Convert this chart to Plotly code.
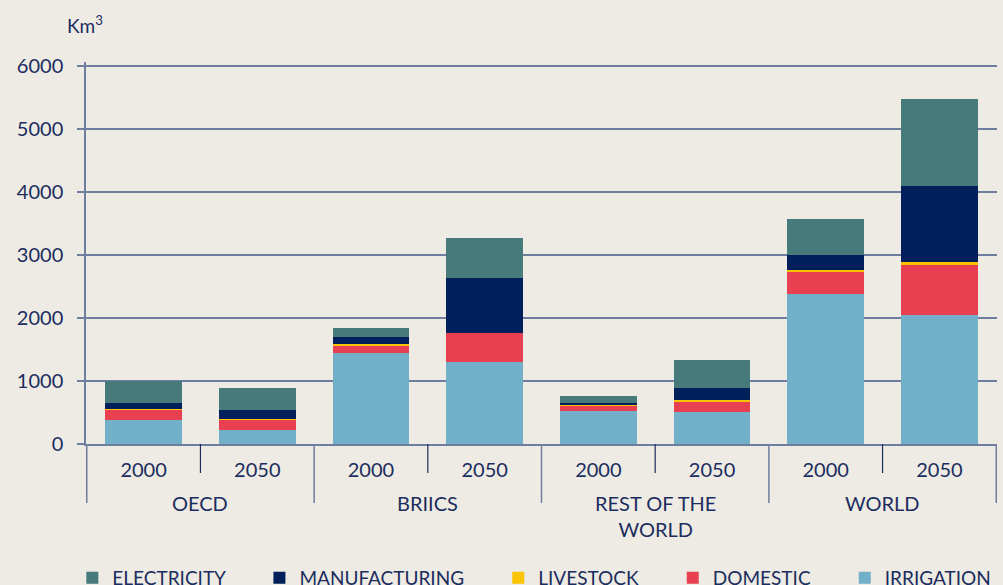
import plotly.graph_objects as go

groups = ["OECD", "OECD", "BRIICS", "BRIICS", "REST OF THE<br>WORLD", "REST OF THE<br>WORLD", "WORLD", "WORLD"]
years = ["2000", "2050", "2000", "2050", "2000", "2050", "2000", "2050"]

irrigation = [380, 220, 1440, 1300, 520, 505, 2380, 2045]
domestic = [160, 165, 130, 460, 85, 175, 350, 795]
livestock = [15, 15, 20, 0, 15, 25, 30, 50]
manufacturing = [95, 140, 105, 870, 25, 180, 240, 1205]
electricity = [350, 350, 145, 635, 110, 445, 570, 1380]

series_names = ["ELECTRICITY", "MANUFACTURING", "LIVESTOCK", "DOMESTIC", "IRRIGATION"]
series_values = [electricity, manufacturing, livestock, domestic, irrigation]
series_colors = ["#467a7b", "#001f5b", "#fbc400", "#e83f51", "#72afc9"]

text_color = "#1b2d5e"
grid_color = "#6f7e9e"
bg = "#eeebe4"
font_family = "Lato"
pad = "\u00a0" * 6

# unique category keys (group + year), labelled with the year only
cats = [g.replace("<br>", " ") + " | " + y for g, y in zip(groups, years)]

fig = go.Figure()
for rank in range(len(series_names) - 1, -1, -1):
    name = series_names[rank]
    fig.add_trace(go.Bar(
        x=cats, y=series_values[rank],
        name=name + (pad if rank < len(series_names) - 1 else ""),
        marker=dict(color=series_colors[rank], line=dict(width=0)),
        legendrank=rank + 1,
    ))

plot_h = 585 - 62 - 141
short_len = 29 / plot_h
long_len = 59 / plot_h

shapes = []
annotations = []
n = len(cats)
for b in range(n + 1):
    is_group_edge = b == 0 or b == n or groups[b] != groups[b - 1]
    shapes.append(dict(
        type="line", xref="x", yref="paper",
        x0=b - 0.5, x1=b - 0.5, y0=0, y1=-(long_len if is_group_edge else short_len),
        line=dict(color=grid_color if is_group_edge else text_color,
                  width=1.5 if is_group_edge else 1.2),
    ))

# group labels centred under each group
start = 0
for i in range(1, n + 1):
    if i == n or groups[i] != groups[start]:
        annotations.append(dict(
            text=groups[start], xref="x", yref="paper",
            x=(start + i - 1) / 2, y=-45 / plot_h,
            xanchor="center", yanchor="top", showarrow=False,
            font=dict(size=20, color=text_color, family=font_family),
        ))
        start = i

annotations.append(dict(
    text="Km<sup>3</sup>", xref="paper", yref="paper", x=-0.023, y=1.097,
    xanchor="left", yanchor="middle", showarrow=False,
    font=dict(size=19, color=text_color, family=font_family),
))

fig.update_layout(
    barmode="stack",
    bargap=0.325,
    width=1003, height=585,
    paper_bgcolor=bg, plot_bgcolor=bg,
    margin=dict(l=86, r=6, t=62, b=141, autoexpand=False),
    font=dict(family=font_family, color=text_color, size=20),
    showlegend=True,
    legend=dict(
        orientation="h", x=-0.015, xanchor="left",
        y=-(578 - 444) / plot_h, yanchor="middle",
        font=dict(size=19, color=text_color), traceorder="normal",
        itemwidth=30, bgcolor="rgba(0,0,0,0)",
    ),
    shapes=shapes,
    annotations=annotations,
)

fig.update_yaxes(
    range=[0, 6060], tickvals=[0, 1000, 2000, 3000, 4000, 5000, 6000],
    showgrid=True, gridcolor=grid_color, gridwidth=1.5,
    showline=True, linecolor=grid_color, linewidth=1.5,
    ticks="outside", ticklen=7, tickcolor=grid_color, tickwidth=1.5,
    ticklabelstandoff=10,
    zeroline=False, tickfont=dict(size=20, color=text_color),
    automargin=False,
)
fig.update_xaxes(
    type="category", categoryorder="array", categoryarray=cats,
    tickvals=cats, ticktext=years,
    showline=True, linecolor=grid_color, linewidth=1.5,
    ticks="", ticklabelstandoff=7,
    tickfont=dict(size=20, color=text_color),
    automargin=False,
)

fig.write_html("out.html", config={"displayModeBar": False},
               post_script="document.body.style.margin='0px';")
